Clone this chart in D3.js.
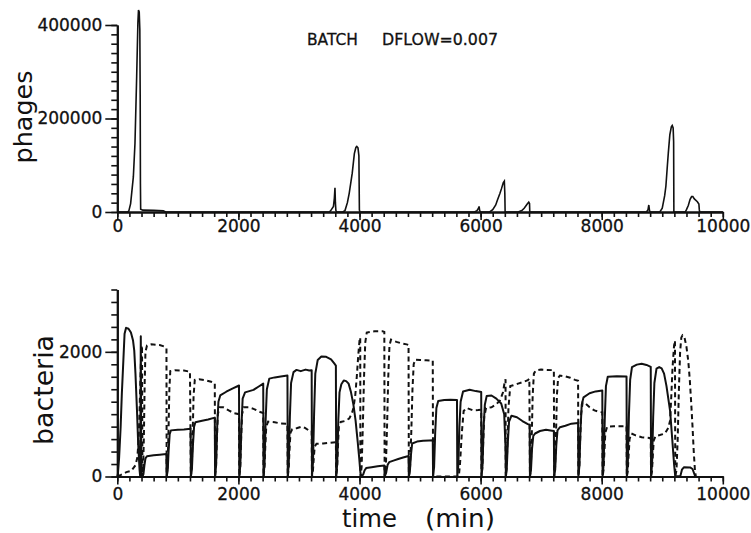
<!DOCTYPE html>
<html lang="en">
<head>
<meta charset="UTF-8">
<title>BATCH DFLOW=0.007</title>
<script src="https://cdn.jsdelivr.net/npm/d3@7"></script>
<style>
  body { margin: 0; background: #fff; }
  svg { display: block; }
</style>
</head>
<body>
<script>
// [time (min), phages]
const phages = [
  [0, 0], [170, 0], [190, 2000], [220, 18000], [265, 75000], [292, 147000], [320, 290000], [340, 405000],
  [350, 432000], [362, 428000], [372, 390000], [378, 250000], [382, 60000], [386, 6000], [420, 4000],
  [600, 3500], [760, 2500], [800, 0],
  [3500, 0], [3525, 3000], [3570, 12000], [3585, 30000], [3595, 52000], [3602, 20000], [3610, 3000], [3625, 0],
  [3720, 0], [3760, 3000], [3800, 20000], [3830, 40000], [3880, 83000], [3915, 125000], [3940, 138000],
  [3955, 140000], [3975, 137000], [3990, 120000], [3998, 5000], [4005, 0],
  [5900, 0], [5940, 3000], [5965, 8000], [5975, 12000], [5985, 3000], [6000, 0],
  [6150, 0], [6200, 5000], [6250, 15000], [6280, 26000], [6320, 40000], [6345, 50000], [6375, 63000],
  [6392, 66000], [6400, 40000], [6405, 0],
  [6620, 0], [6680, 3000], [6720, 8000], [6770, 17000], [6795, 21000], [6808, 18000], [6812, 0],
  [8740, 0], [8765, 5000], [8778, 15000], [8790, 3000], [8800, 0],
  [8960, 0], [9000, 8000], [9040, 35000], [9060, 55000], [9085, 100000], [9100, 126000], [9125, 165000],
  [9150, 182000], [9165, 185000], [9180, 180000], [9188, 150000], [9192, 0],
  [9380, 0], [9400, 5000], [9430, 14000], [9460, 27000], [9485, 33000], [9505, 33000], [9530, 28000],
  [9580, 22000], [9605, 17000], [9612, 5000], [9618, 0], [10000, 0]
];

// [time (min), bacteria] solid curve
const bacteriaSolid = [
  [0, 0], [10, 40], [30, 300], [55, 790], [75, 1330], [100, 1860], [120, 2290], [145, 2385], [185, 2370],
  [225, 2310], [260, 2180], [280, 2020], [300, 1650], [325, 1060], [345, 520], [368, 100], [378, 0], [388, 2250], [396, 0],
  [415, 0], [432, 40], [448, 180], [465, 290], [490, 325], [600, 340], [700, 350], [810, 360], [815, 0],
  [832, 90], [848, 420], [865, 680], [885, 740], [1000, 750], [1100, 755], [1210, 765], [1215, 0],
  [1232, 110], [1250, 520], [1268, 800], [1290, 870], [1400, 895], [1500, 915], [1610, 945], [1615, 0],
  [1632, 180], [1650, 800], [1670, 1200], [1700, 1300], [1800, 1360], [1900, 1410], [2010, 1460], [2015, 0],
  [2032, 180], [2050, 800], [2070, 1250], [2110, 1350], [2180, 1370], [2250, 1390], [2330, 1440], [2410, 1490], [2415, 0],
  [2432, 200], [2450, 900], [2470, 1400], [2510, 1570], [2600, 1590], [2700, 1605], [2810, 1620], [2815, 0],
  [2832, 200], [2850, 950], [2870, 1500], [2910, 1675], [2960, 1710], [3030, 1690], [3110, 1715], [3170, 1700], [3210, 1705], [3215, 0],
  [3232, 220], [3250, 1000], [3270, 1650], [3310, 1870], [3370, 1925], [3450, 1920], [3530, 1880], [3580, 1820], [3610, 1780], [3615, 0],
  [3632, 200], [3650, 900], [3670, 1350], [3700, 1480], [3740, 1540], [3780, 1530], [3820, 1490], [3860, 1350],
  [3900, 1150], [3935, 900], [3970, 560], [3995, 300], [4015, 60], [4030, 0],
  [4060, 30], [4085, 100], [4110, 135], [4200, 150], [4300, 165], [4410, 175], [4415, 0],
  [4440, 60], [4465, 190], [4490, 230], [4560, 255], [4640, 280], [4720, 305], [4810, 330], [4815, 0],
  [4832, 80], [4850, 350], [4870, 530], [4950, 560], [5050, 572], [5150, 577], [5210, 580], [5215, 0],
  [5232, 150], [5250, 700], [5270, 1100], [5300, 1210], [5400, 1228], [5500, 1232], [5610, 1228], [5615, 0],
  [5632, 180], [5650, 800], [5670, 1200], [5710, 1365], [5820, 1392], [5920, 1370], [6010, 1355], [6015, 0],
  [6032, 180], [6050, 800], [6070, 1150], [6100, 1290], [6180, 1300], [6260, 1250], [6340, 1170], [6390, 1000], [6410, 500], [6418, 0],
  [6432, 120], [6450, 550], [6470, 880], [6510, 975], [6600, 950], [6690, 890], [6780, 840], [6810, 830], [6815, 0],
  [6832, 100], [6850, 450], [6870, 650], [6900, 690], [6980, 730], [7080, 750], [7180, 735], [7210, 730], [7215, 0],
  [7232, 110], [7250, 500], [7270, 740], [7310, 790], [7400, 815], [7500, 848], [7610, 860], [7615, 0],
  [7632, 170], [7650, 750], [7670, 1150], [7700, 1270], [7800, 1335], [7900, 1365], [8010, 1380], [8015, 0],
  [8032, 200], [8050, 900], [8070, 1450], [8100, 1600], [8250, 1610], [8410, 1605], [8415, 0],
  [8432, 220], [8450, 1000], [8470, 1550], [8500, 1755], [8580, 1795], [8660, 1810], [8740, 1790], [8810, 1760], [8815, 0],
  [8832, 200], [8850, 950], [8870, 1500], [8905, 1730], [8950, 1755], [8990, 1735], [9030, 1650], [9070, 1450],
  [9100, 1250], [9130, 1050], [9165, 600], [9195, 200], [9215, 0],
  [9300, 10], [9325, 110], [9360, 150], [9460, 145], [9500, 120], [9530, 40], [9545, 0]
];

// [time (min), bacteria] dashed curve
const bacteriaDashed = [
  [0, 0], [60, 25], [150, 70], [230, 90], [300, 180], [330, 300], [350, 550], [365, 950], [380, 1500], [395, 2000], [408, 2100], [415, 0],
  [428, 150], [440, 700], [452, 1500], [465, 2000], [490, 2100], [560, 2120], [700, 2110], [790, 2080], [812, 2060], [815, 0],
  [830, 150], [845, 700], [860, 1400], [875, 1690], [950, 1705], [1100, 1700], [1200, 1680], [1215, 0],
  [1230, 150], [1245, 700], [1260, 1300], [1280, 1550], [1350, 1560], [1450, 1545], [1550, 1520], [1610, 1495], [1615, 0],
  [1630, 150], [1645, 600], [1660, 1000], [1690, 1110], [1750, 1110], [1840, 1060], [1930, 1015], [2010, 1000], [2015, 0],
  [2030, 150], [2045, 600], [2060, 1000], [2090, 1110], [2170, 1110], [2250, 1085], [2360, 1035], [2410, 1020], [2415, 0],
  [2430, 130], [2445, 500], [2460, 800], [2490, 880], [2600, 870], [2700, 850], [2810, 845], [2815, 0],
  [2830, 120], [2845, 450], [2860, 700], [2890, 760], [2960, 775], [3045, 800], [3100, 780], [3160, 740], [3210, 735], [3215, 0],
  [3230, 80], [3245, 300], [3260, 480], [3290, 525], [3400, 530], [3500, 540], [3610, 550], [3615, 0],
  [3630, 130], [3645, 500], [3660, 820], [3690, 875], [3760, 890], [3830, 930], [3870, 1000], [3900, 1100],
  [3930, 1300], [3955, 1600], [3980, 1950], [4000, 2180], [4012, 2230], [4015, 0],
  [4035, 150], [4055, 800], [4075, 1600], [4095, 2150], [4120, 2310], [4250, 2330], [4380, 2330], [4410, 2320], [4415, 0],
  [4435, 150], [4455, 800], [4475, 1600], [4495, 2100], [4520, 2195], [4610, 2160], [4700, 2135], [4780, 2120], [4810, 2110], [4815, 0],
  [4835, 150], [4855, 700], [4875, 1400], [4895, 1800], [4920, 1875], [5000, 1870], [5100, 1865], [5210, 1860], [5215, 0],
  [5615, 0], [5640, 0], [5660, 200], [5690, 700], [5720, 1050], [5770, 1100], [5880, 1060], [5960, 1065], [6010, 1070], [6015, 0],
  [6030, 150], [6045, 600], [6060, 950], [6090, 1100], [6180, 1110], [6260, 1160], [6320, 1220], [6370, 1350], [6400, 1530], [6412, 1560], [6415, 0],
  [6430, 150], [6445, 600], [6460, 1100], [6490, 1450], [6540, 1465], [6620, 1490], [6700, 1515], [6780, 1545], [6805, 1570], [6815, 0],
  [6830, 150], [6845, 650], [6860, 1300], [6880, 1650], [6910, 1700], [7000, 1715], [7100, 1710], [7210, 1705], [7215, 0],
  [7230, 150], [7245, 650], [7260, 1300], [7280, 1580], [7310, 1620], [7400, 1605], [7480, 1585], [7560, 1550], [7610, 1535], [7615, 0],
  [7630, 150], [7645, 600], [7660, 1000], [7685, 1190], [7720, 1180], [7800, 1110], [7880, 1060], [7960, 1035], [8010, 1030], [8015, 0],
  [8030, 100], [8045, 400], [8060, 700], [8090, 800], [8200, 805], [8300, 805], [8410, 810], [8415, 0],
  [8430, 80], [8445, 350], [8460, 600], [8490, 690], [8560, 660], [8660, 630], [8760, 620], [8810, 615], [8815, 0],
  [8830, 80], [8845, 350], [8860, 580], [8890, 650], [8960, 665], [9045, 690], [9100, 780], [9130, 900],
  [9150, 1300], [9170, 1750], [9195, 2100], [9210, 2180], [9215, 0],
  [9235, 100], [9255, 600], [9275, 1400], [9295, 2000], [9315, 2230], [9335, 2265], [9365, 2240], [9400, 2080],
  [9430, 1850], [9455, 1550], [9480, 1150], [9500, 800], [9520, 400], [9540, 100], [9555, 0]
];

const timeTicks = [0, 2000, 4000, 6000, 8000, 10000];
const phageTicks = [0, 200000, 400000];
const bacteriaTicks = [0, 2000];

const width = 751, height = 533;
const ink = '#111';
const font = '"DejaVu Sans", sans-serif';

const svg = d3.select('body').append('svg')
    .attr('width', width)
    .attr('height', height);

const x = d3.scaleLinear().domain([0, 10000]).range([117.3, 722.8]);
const yPhage = d3.scaleLinear().domain([0, 400000]).range([212, 25]);
const yBact = d3.scaleLinear().domain([0, 3000]).range([476.5, 289.5]);

// axes with minor and labelled major ticks
function drawAxes(y, minorTicks, majorTicks, xPad) {
    const g = svg.append('g');
    const base = y(0);

    g.append('g').attr('transform', `translate(0,${base})`)
        .call(d3.axisBottom(x).tickValues(d3.range(0, 10001, 200)).tickSize(5).tickSizeOuter(0).tickFormat(''));
    g.append('g').attr('transform', `translate(0,${base})`)
        .call(d3.axisBottom(x).tickValues(timeTicks).tickSize(8).tickSizeOuter(0).tickPadding(xPad).tickFormat(d3.format('d')));

    g.append('g').attr('transform', `translate(${x(0)},0)`)
        .call(d3.axisLeft(y).tickValues(minorTicks).tickSize(6).tickSizeOuter(0).tickFormat(''));
    g.append('g').attr('transform', `translate(${x(0)},0)`)
        .call(d3.axisLeft(y).tickValues(majorTicks).tickSize(12).tickSizeOuter(0).tickPadding(3).tickFormat(d3.format('d')));

    g.selectAll('.domain').attr('stroke', ink).attr('stroke-width', 2);
    g.selectAll('.tick line').attr('stroke', ink).attr('stroke-width', 1.6);
    g.selectAll('.tick text')
        .attr('font-family', font)
        .attr('font-size', 17)
        .attr('fill', ink)
        .attr('stroke', ink)
        .attr('stroke-width', 0.3);
}

drawAxes(yPhage, d3.range(0, 400001, 20000), phageTicks, 0);
drawAxes(yBact, d3.range(0, 3001, 200), bacteriaTicks, 3);

// curves
const phageLine = d3.line().x(d => x(d[0])).y(d => yPhage(d[1]));
const bactLine = d3.line().x(d => x(d[0])).y(d => yBact(d[1]));

svg.append('path')
    .datum(phages)
    .attr('d', phageLine)
    .attr('fill', 'none')
    .attr('stroke', ink)
    .attr('stroke-width', 1.6);

svg.append('path')
    .datum(bacteriaDashed)
    .attr('d', bactLine)
    .attr('fill', 'none')
    .attr('stroke', ink)
    .attr('stroke-width', 2)
    .attr('stroke-dasharray', '5,3.5');

svg.append('path')
    .datum(bacteriaSolid)
    .attr('d', bactLine)
    .attr('fill', 'none')
    .attr('stroke', ink)
    .attr('stroke-width', 2)
    .attr('stroke-linejoin', 'round');

// titles and axis labels
const titleText = (txt, tx, len) => svg.append('text')
    .attr('x', tx).attr('y', 45)
    .attr('font-family', font).attr('font-size', 15.5)
    .attr('fill', ink).attr('stroke', ink).attr('stroke-width', 0.3)
    .attr('textLength', len).attr('lengthAdjust', 'spacingAndGlyphs')
    .text(txt);
titleText('BATCH', 307, 51);
titleText('DFLOW=0.007', 382, 116);

svg.append('text')
    .attr('transform', 'translate(31.5,117) rotate(-90)')
    .attr('text-anchor', 'middle')
    .attr('font-family', font).attr('font-size', 25).attr('fill', ink)
    .attr('textLength', 93).attr('lengthAdjust', 'spacingAndGlyphs')
    .text('phages');

svg.append('text')
    .attr('transform', 'translate(53,390) rotate(-90)')
    .attr('text-anchor', 'middle')
    .attr('font-family', font).attr('font-size', 26).attr('fill', ink)
    .attr('textLength', 110).attr('lengthAdjust', 'spacingAndGlyphs')
    .text('bacteria');

svg.append('text')
    .attr('x', 342).attr('y', 527)
    .attr('font-family', font).attr('font-size', 24).attr('fill', ink)
    .attr('textLength', 55).attr('lengthAdjust', 'spacingAndGlyphs')
    .text('time');

svg.append('text')
    .attr('x', 425).attr('y', 527)
    .attr('font-family', font).attr('font-size', 24).attr('fill', ink)
    .attr('textLength', 70).attr('lengthAdjust', 'spacingAndGlyphs')
    .text('(min)');
</script>
</body>
</html>
